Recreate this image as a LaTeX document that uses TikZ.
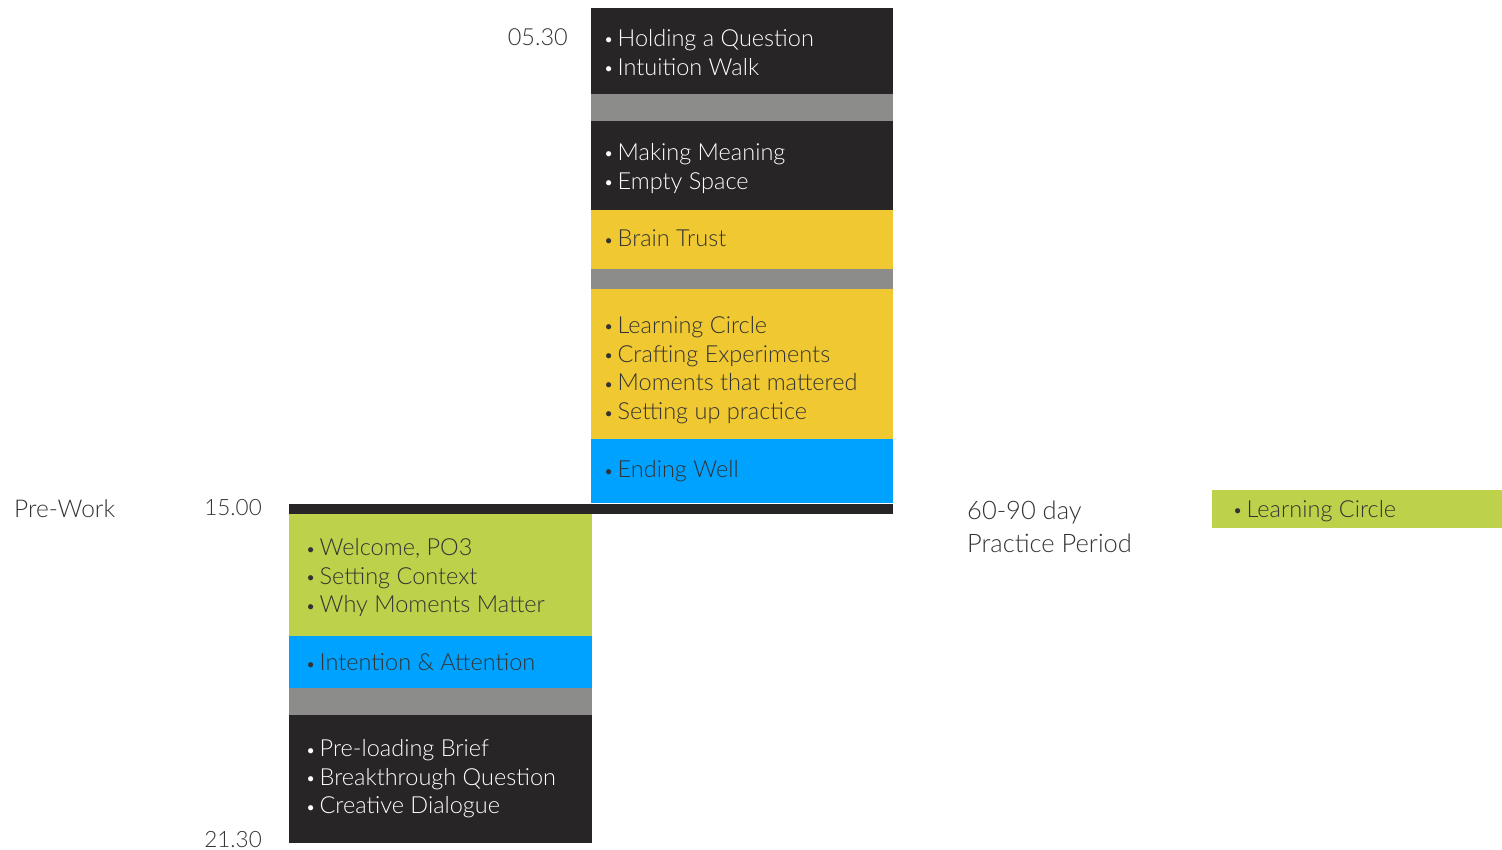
\documentclass[tikz,border=0pt]{standalone}
\usepackage{fontspec}
\setmainfont{Lato Light}
\definecolor{cdark}{HTML}{272526}
\definecolor{cgray}{HTML}{8C8D8B}
\definecolor{cyellow}{HTML}{F0C832}
\definecolor{cblue}{HTML}{00A2FF}
\definecolor{cgreen}{HTML}{BDD14A}
\definecolor{ctext}{HTML}{333333}
\definecolor{clabel}{HTML}{333333}
\newcommand\bul{\hbox to 14.5pt{\hskip0.5pt\raisebox{0.5pt}{\scalebox{0.75}{\textbullet}}\hss}}
\newcommand\lines[1]{\vtop{\fontsize{23.5}{28.7}\selectfont#1}}
\newcommand\li[1]{\hbox{\bul#1}}
\begin{document}
\begin{tikzpicture}[x=1pt,y=-1pt,
  blk/.style={anchor=north west, inner sep=0pt, outer sep=0pt, minimum width=302pt},
  darkblk/.style={blk, fill=cdark},
  grayblk/.style={blk, fill=cgray},
  yelblk/.style={blk, fill=cyellow},
  blueblk/.style={blk, fill=cblue},
  grnblk/.style={blk, fill=cgreen},
  txt/.style={anchor=base west, inner sep=0pt, text=ctext},
  wtxt/.style={txt, text=white},
  lbl/.style={inner sep=0pt, text=clabel}]
\useasboundingbox (0,0) rectangle (1502,850);
% top column
\node[darkblk, minimum height=86pt] (d1) at (591,8) {};
\node[grayblk, minimum height=27pt] (g1) at (591,94) {};
\node[darkblk, minimum height=89pt] (d2) at (591,121) {};
\node[yelblk, minimum height=59pt] (y1) at (591,210) {};
\node[grayblk, minimum height=20pt] (g2) at (591,269) {};
\node[yelblk, minimum height=150pt] (y2) at (591,289) {};
\node[blueblk, minimum height=64pt] (b1) at (591,439) {};
% connecting bar
\node[blk, fill=cdark, minimum width=604pt, minimum height=10.5pt] (bar) at (289,503.5) {};
% bottom column
\node[grnblk, minimum height=122pt, minimum width=303pt] (gr1) at (289,514) {};
\node[blueblk, minimum height=52pt, minimum width=303pt] (b2) at (289,636) {};
\node[grayblk, minimum height=27pt, minimum width=303pt] (g3) at (289,688) {};
\node[darkblk, minimum height=128pt, minimum width=303pt] (d3) at (289,715) {};
% right green
\node[grnblk, minimum width=290pt, minimum height=38pt] (gr2) at (1212,490) {};
% block texts
\node[wtxt] (t-d1) at (603,46.5) {\lines{\li{Holding a Question}\li{Intuition Walk}}};
\node[wtxt] (t-d2) at (603,160.5) {\lines{\li{Making Meaning}\li{Empty Space}}};
\node[txt] (t-y1) at (603,247) {\lines{\li{Brain Trust}}};
\node[txt] (t-y2) at (603,333.5) {\lines{\li{Learning Circle}\li{Crafting Experiments}\li{Moments that mattered}\li{Setting up practice}}};
\node[txt] (t-b1) at (603,477.5) {\lines{\li{Ending Well}}};
\node[txt] (t-gr1) at (305,555.5) {\lines{\li{Welcome, PO3}\li{Setting Context}\li{Why Moments Matter}}};
\node[txt] (t-b2) at (305,670.5) {\lines{\li{Intention \& Attention}}};
\node[wtxt] (t-d3) at (305,756.5) {\lines{\li{Pre-loading Brief}\li{Breakthrough Question}\li{Creative Dialogue}}};
\node[txt] (t-gr2) at (1232,517) {\lines{\li{Learning Circle}}};
% labels
\node[lbl, anchor=base east, font=\fontsize{23.5}{28}\selectfont] (t1) at (568,46) {05.30};
\node[lbl, anchor=base east, font=\fontsize{22.5}{28}\selectfont] (t2) at (262,515) {15.00};
\node[lbl, anchor=base east, font=\fontsize{22.5}{28}\selectfont] (t3) at (262,847) {21.30};
\node[lbl, anchor=base west, font=\fontsize{24.5}{30}\selectfont] (pw) at (14,517) {Pre-Work};
\node[lbl, anchor=base west, font=\fontsize{25.5}{36}\selectfont] (pp1) at (967,519) {60-90 day};
\node[lbl, anchor=base west, font=\fontsize{25.5}{36}\selectfont] (pp2) at (967,552) {Practice Period};
\end{tikzpicture}
\end{document}
